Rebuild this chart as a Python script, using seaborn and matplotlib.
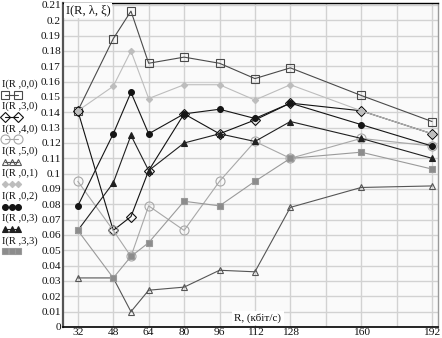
import matplotlib
matplotlib.use("Agg")
import matplotlib.pyplot as plt
import seaborn as sns
from matplotlib.ticker import FixedLocator, FuncFormatter, MultipleLocator
from matplotlib.lines import Line2D

# Bit rate, kbit/s
R = [32, 48, 56, 64, 80, 96, 112, 128, 160, 192]
R_ticks = [32, 48, 64, 80, 96, 112, 128, 160, 192]

I_0_0 = [0.141, 0.188, 0.206, 0.172, 0.176, 0.172, 0.162, 0.169, 0.151, 0.134]
I_3_0 = [0.141, 0.063, 0.072, 0.102, 0.139, 0.126, 0.135, 0.146, 0.141, 0.126]
I_4_0 = [0.095, 0.063, 0.046, 0.079, 0.063, 0.095, 0.121, 0.110, 0.123, 0.118]
I_5_0 = [0.032, 0.032, 0.010, 0.024, 0.026, 0.037, 0.036, 0.078, 0.091, 0.092]
I_0_1 = [0.141, 0.157, 0.180, 0.149, 0.158, 0.158, 0.148, 0.158, 0.141, 0.126]
I_0_2 = [0.079, 0.126, 0.153, 0.126, 0.139, 0.142, 0.136, 0.146, 0.132, 0.118]
I_0_3 = [0.063, 0.094, 0.125, 0.102, 0.120, 0.126, 0.121, 0.134, 0.123, 0.110]
I_3_3 = [0.063, 0.032, 0.046, 0.055, 0.082, 0.079, 0.095, 0.110, 0.114, 0.103]

labels = ["I(R ,0,0)", "I(R ,3,0)", "I(R ,4,0)", "I(R ,5,0)",
          "I(R ,0,1)", "I(R ,0,2)", "I(R ,0,3)", "I(R ,3,3)"]
values = [I_0_0, I_3_0, I_4_0, I_5_0, I_0_1, I_0_2, I_0_3, I_3_3]

# line colour, marker, face colour, marker size, number of legend markers
styles = [
    dict(color="#4a4a4a", marker="s", mfc="none", ms=6.0, n=2),
    dict(color="#111111", marker="D", mfc="none", ms=5.0, n=2),
    dict(color="#a8a8a8", marker="o", mfc="none", ms=6.5, n=2),
    dict(color="#555555", marker="^", mfc="none", ms=4.5, n=3),
    dict(color="#bdbdbd", marker="D", mfc="#bdbdbd", ms=3.2, n=3),
    dict(color="#151515", marker="o", mfc="#151515", ms=4.2, n=3),
    dict(color="#202020", marker="^", mfc="#202020", ms=4.5, n=3),
    dict(color="#9a9a9a", marker="s", mfc="#8c8c8c", ms=4.5, n=3),
]

sns.set_theme(style="white")
plt.rcParams["font.family"] = ["Liberation Serif", "DejaVu Serif"]

W, H = 442, 338
fig = plt.figure(figsize=(W / 100, H / 100), dpi=100, facecolor="white")
ax = fig.add_axes([63 / W, 11 / H, (438 - 63) / W, (335 - 11) / H])
ax.set_facecolor("#fafafa")

for vals, st in zip(values, styles):
    sns.lineplot(x=R, y=vals, ax=ax, color=st["color"], linewidth=0.8,
                 marker=st["marker"], markersize=st["ms"],
                 markerfacecolor=st["mfc"], markeredgecolor=st["color"],
                 markeredgewidth=0.8, zorder=3)

ax.set_xlim(25.3, 194.7)
ax.set_ylim(0, 0.2113)

ax.xaxis.set_major_locator(FixedLocator(R_ticks))
ax.xaxis.set_minor_locator(FixedLocator([144, 176]))
ax.yaxis.set_major_locator(MultipleLocator(0.01))


def fmt(v, pos):
    s = f"{v:.2f}".rstrip("0").rstrip(".")
    return s


ax.yaxis.set_major_formatter(FuncFormatter(fmt))
ax.tick_params(axis="both", which="both", length=0, labelsize=8.2,
               colors="#111111")
ax.tick_params(axis="x", pad=0.5)
ax.tick_params(axis="y", pad=1.5)
ax.grid(True, which="both", color="#d2d2d2", linewidth=1.0)
ax.set_axisbelow(True)
ax.set_xlabel("")
ax.set_ylabel("")

for side, col, lw in [("left", "#555555", 1.6), ("bottom", "#000000", 1.2),
                      ("top", "#000000", 1.0), ("right", "#9a9a9a", 1.0)]:
    ax.spines[side].set_visible(True)
    ax.spines[side].set_color(col)
    ax.spines[side].set_linewidth(lw)

# function name at the top-left corner and axis name at the bottom
ax.text(0.008, 0.995, "I(R, λ, ξ)", transform=ax.transAxes, ha="left",
        va="top", fontsize=9, color="#111111", zorder=5,
        bbox=dict(facecolor="white", edgecolor="none", pad=1.2))
ax.text(0.52, 0.028, "R, (кбіт/с)", transform=ax.transAxes, ha="center",
        va="center", fontsize=8, color="#111111", zorder=5,
        bbox=dict(facecolor="white", edgecolor="none", pad=1.5))

# legend column on the left, label above a marker sample
lg = fig.add_axes([0, 0, 1, 1], facecolor="none")
lg.set_xlim(0, W)
lg.set_ylim(H, 0)
lg.axis("off")
for i, (lab, st) in enumerate(zip(labels, styles)):
    ty = 84 + 22.4 * i
    my = ty + 10.5
    lg.text(2, ty, lab, ha="left", va="center", fontsize=7.6,
            color="#111111")
    xs = [5, 18] if st["n"] == 2 else [5, 11.5, 18]
    lg.add_line(Line2D(xs, [my] * len(xs), color=st["color"], linewidth=0.8,
                       marker=st["marker"], markersize=st["ms"],
                       markerfacecolor=st["mfc"],
                       markeredgecolor=st["color"], markeredgewidth=0.8))

fig.savefig("out.png", dpi=100, facecolor="white")
